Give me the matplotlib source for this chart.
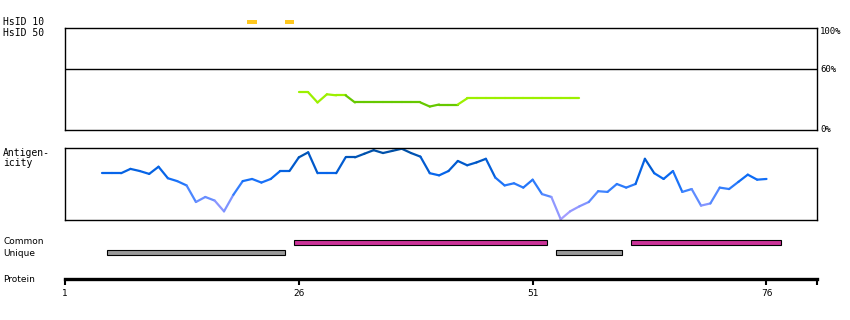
import matplotlib
matplotlib.use('Agg')
from matplotlib import pyplot as plt
from matplotlib.collections import LineCollection
from matplotlib.colors import LinearSegmentedColormap
import numpy as np

# ---------------- data ----------------
protein_ticks = [1, 26, 51, 76]
protein_end = 81.4

hsid10_residues = [21, 25]

identity_residues = list(range(26, 57))
identity_pct = [37, 37, 27, 35, 34, 34, 27, 27, 27, 27, 27, 27, 27, 27, 23, 25,
                25, 25, 31, 31, 31, 31, 31, 31, 31, 31, 31, 31, 31, 31, 31]
identity_dark_from, identity_dark_to = 32, 43

antigen_residues = list(range(5, 77))
antigen_score = [0.65, 0.65, 0.65, 0.71, 0.68, 0.64, 0.74, 0.58, 0.54, 0.48,
                 0.25, 0.32, 0.27, 0.12, 0.35, 0.54, 0.57, 0.52, 0.57, 0.68,
                 0.68, 0.87, 0.94, 0.65, 0.65, 0.65, 0.87, 0.87, 0.92, 0.97,
                 0.93, 0.96, 0.99, 0.93, 0.88, 0.65, 0.62, 0.68, 0.82, 0.76,
                 0.80, 0.85, 0.59, 0.48, 0.51, 0.45, 0.56, 0.36, 0.32, 0.01,
                 0.12, 0.19, 0.25, 0.40, 0.39, 0.50, 0.45, 0.50, 0.85, 0.65,
                 0.57, 0.68, 0.39, 0.43, 0.20, 0.23, 0.45, 0.43, 0.53, 0.63,
                 0.56, 0.57]

common_ranges = [(26, 52), (62, 77)]
unique_ranges = [(6, 24), (54, 60)]

# ---------------- layout helpers ----------------
W, H = 850, 320
fig = plt.figure(figsize=(W / 100, H / 100), dpi=100)
MONO = 'DejaVu Sans Mono'
NARROW = ['Liberation Sans Narrow', 'DejaVu Sans']


def box(left, top, right, bottom):
    return [left / W, 1 - bottom / H, (right - left) / W, (bottom - top) / H]


def label(x, y, s, size=7, family=MONO, ha='left'):
    fig.text(x / W, 1 - y / H, s, fontsize=size, family=family,
             ha=ha, va='center')


X0, X1 = 65, 817

# ---------------- HsID marks ----------------
ax_h = fig.add_axes(box(X0, 16.5, X1, 38.5))
ax_h.set_xlim(1, protein_end)
ax_h.set_ylim(1.5, -0.5)
ax_h.barh([0] * len(hsid10_residues), [1] * len(hsid10_residues),
          left=np.array(hsid10_residues) - 0.5, height=0.36, color='#ffc81e')
ax_h.axis('off')
label(3, 22, 'HsID 10')
label(3, 33, 'HsID 50')

# ---------------- identity panel ----------------
ax_i = fig.add_axes(box(X0, 28, X1, 130))
ax_i.set_xlim(1, protein_end)
ax_i.set_ylim(0, 100)
ax_i.axhline(60, color='black', lw=1.0)
ir = np.array(identity_residues)
ip = np.array(identity_pct)
segs = [[(ir[k], ip[k]), (ir[k + 1], ip[k + 1])] for k in range(len(ir) - 1)]
cols = ['#66c800' if identity_dark_from <= ir[k + 1] and ir[k] <= identity_dark_to
        and not (ir[k] == identity_dark_to) else '#9cf000' for k in range(len(ir) - 1)]
ax_i.add_collection(LineCollection(segs, colors=cols, linewidths=1.6,
                                   capstyle='round'))
ax_i.set_xticks([])
ax_i.set_yticks([])
for s in ax_i.spines.values():
    s.set_linewidth(1.0)
label(820, 32, '100%', size=6.5)
label(820, 70, '60%', size=6.5)
label(820, 130, '0%', size=6.5)

# ---------------- antigenicity panel ----------------
ax_a = fig.add_axes(box(X0, 148, X1, 220))
ax_a.set_xlim(1, protein_end)
ax_a.set_ylim(0, 1)
cmap = LinearSegmentedColormap.from_list(
    'antigen', ['#b0a0ff', '#8a96ff', '#3f84ff', '#0a6af5', '#0058c8', '#004fa0'])
ar = np.array(antigen_residues)
av = np.array(antigen_score)
segs = [[(ar[k], av[k]), (ar[k + 1], av[k + 1])] for k in range(len(ar) - 1)]
mids = (av[:-1] + av[1:]) / 2
ax_a.add_collection(LineCollection(segs, colors=cmap(mids), linewidths=1.6,
                                   capstyle='round'))
ax_a.set_xticks([])
ax_a.set_yticks([])
for s in ax_a.spines.values():
    s.set_linewidth(1.0)
label(3, 153, 'Antigen-')
label(3, 163, 'icity')

# ---------------- common / unique ----------------
ax_c = fig.add_axes(box(X0, 232, X1, 262))
ax_c.set_xlim(1, protein_end)
ax_c.set_ylim(-1.5, 1.5)
for a, b in common_ranges:
    ax_c.barh(0.5, b - a + 1, left=a - 0.5, height=0.5, color='#cc3399',
              edgecolor='black', linewidth=0.8)
for a, b in unique_ranges:
    ax_c.barh(-0.5, b - a + 1, left=a - 0.5, height=0.5, color='#999999',
              edgecolor='black', linewidth=0.8)
ax_c.axis('off')
label(3, 242, 'Common', size=6.5, family=NARROW)
label(3, 253, 'Unique', size=6.5, family=NARROW)

# ---------------- protein axis ----------------
ax_p = fig.add_axes(box(X0, 270, X1, 279))
ax_p.set_xlim(1, protein_end)
ax_p.set_yticks([])
for side in ['top', 'left', 'right']:
    ax_p.spines[side].set_visible(False)
ax_p.spines['bottom'].set_linewidth(2.4)
ax_p.patch.set_visible(False)
ax_p.set_xticks(protein_ticks + [protein_end])
ax_p.set_xticklabels([str(t) for t in protein_ticks] + [''],
                     fontsize=6.5, family=NARROW)
ax_p.tick_params(axis='x', length=4, width=1.5, pad=3)
label(3, 279, 'Protein', size=6.5, family=NARROW)

fig.savefig('out.png', dpi=100)
